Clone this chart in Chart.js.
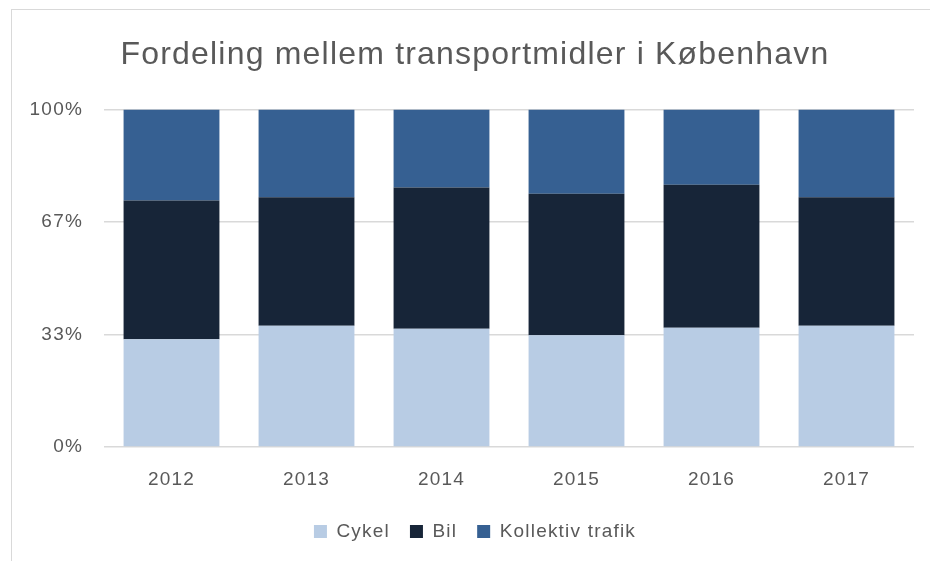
<!DOCTYPE html>
<html>
<head>
<meta charset="utf-8">
<script src="https://cdn.jsdelivr.net/npm/chart.js@4.4.1/dist/chart.umd.min.js"></script>
<style>
  html, body { margin: 0; padding: 0; background: #fff; }
  #wrap { position: relative; width: 930px; height: 561px; overflow: hidden; }
  #frame {
    position: absolute; left: 11px; top: 9px; width: 1000px; height: 700px;
    border-left: 1px solid #d9d9d9; border-top: 1px solid #d9d9d9;
  }
  canvas { position: absolute; left: 0; top: 0; }
</style>
</head>
<body>
<div id="wrap">
  <div id="frame"></div>
  <canvas id="chart" width="930" height="561"></canvas>
</div>
<script>
// data (percent shares)
const years = ["2012", "2013", "2014", "2015", "2016", "2017"];
const cykel = [31.9, 35.9, 35.0, 33.1, 35.3, 35.9];
const bil = [41.1, 38.1, 41.9, 41.9, 42.4, 38.1];
const kollektiv = [27.0, 26.0, 23.1, 25.0, 22.3, 26.0];
const yTicks = [0, 100 / 3, 200 / 3, 100];

const textColor = "#595959";
const fontFamily = "'Liberation Sans', Arial, sans-serif";

// the original text is a bit spaced out
const spacing = {
    id: "spacing",
    beforeUpdate(chart) { chart.ctx.letterSpacing = "1.2px"; },
    beforeLayout(chart) { chart.ctx.letterSpacing = "1.2px"; },
    beforeDraw(chart) { chart.ctx.letterSpacing = "1.2px"; }
};

const ctx = document.getElementById("chart");

new Chart(ctx, {
    type: "bar",
    data: {
        labels: years,
        datasets: [
            { label: "Cykel", data: cykel, backgroundColor: "#b8cce4" },
            { label: "Bil", data: bil, backgroundColor: "#172538" },
            { label: "Kollektiv trafik", data: kollektiv, backgroundColor: "#366092" }
        ]
    },
    plugins: [spacing],
    options: {
        responsive: false,
        animation: false,
        // the original frame runs past the right edge, so title and legend sit a bit right of centre
        layout: { padding: { left: 11, right: -9, top: 26, bottom: 10 } },
        datasets: {
            bar: { categoryPercentage: 1, barPercentage: 0.71, borderWidth: 0 }
        },
        scales: {
            x: {
                stacked: true,
                grid: { display: false },
                border: { display: false },
                afterFit(scale) {
                    scale.height = 55;
                },
                ticks: { color: textColor, font: { family: fontFamily, size: 19 }, padding: 13 }
            },
            y: {
                stacked: true,
                min: 0,
                max: 100,
                afterBuildTicks(scale) {
                    scale.ticks = yTicks.map(v => ({ value: v }));
                },
                afterFit(scale) {
                    scale.width = 93;
                },
                grid: { color: "#d9d9d9", lineWidth: 1.5, drawTicks: false },
                border: { display: false },
                ticks: {
                    color: textColor,
                    font: { family: fontFamily, size: 19 },
                    padding: 21,
                    callback: v => Math.round(v) + "%"
                }
            },
            // empty spacer on the right
            yRight: {
                position: "right",
                display: true,
                min: 0,
                max: 100,
                grid: { display: false },
                border: { display: false },
                ticks: { display: false },
                afterFit(scale) {
                    scale.width = 25;
                }
            }
        },
        plugins: {
            title: {
                display: true,
                text: "Fordeling mellem transportmidler i København",
                color: textColor,
                font: { family: fontFamily, size: 32, weight: "normal" },
                padding: { top: 10, bottom: 35 }
            },
            legend: {
                position: "bottom",
                labels: {
                    color: textColor,
                    font: { family: fontFamily, size: 19 },
                    boxWidth: 13,
                    boxHeight: 13,
                    padding: 20
                }
            },
            tooltip: { enabled: false }
        }
    }
});
</script>
</body>
</html>
